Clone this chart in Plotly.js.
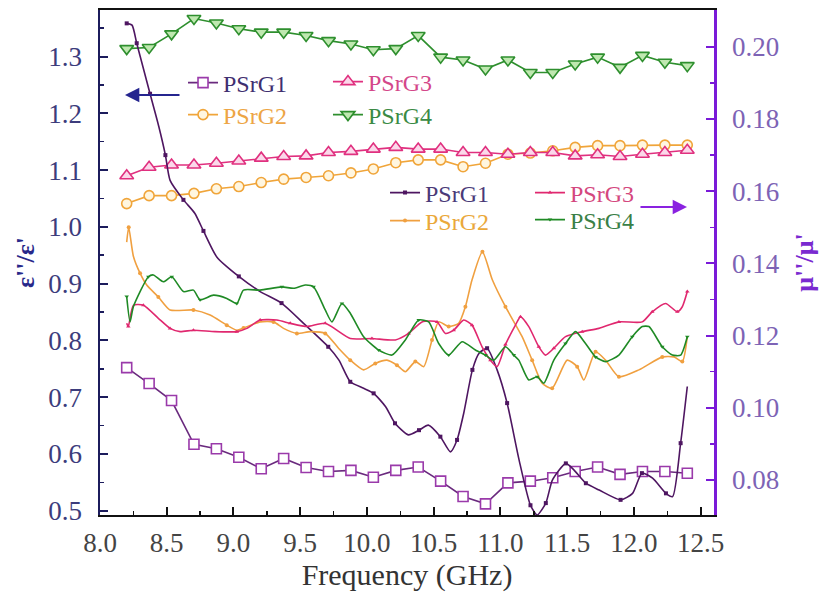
<!DOCTYPE html>
<html>
<head>
<meta charset="utf-8">
<script src="https://cdn.plot.ly/plotly-3.0.1.min.js"></script>
<style>
html,body{margin:0;padding:0;background:#fff;}
#chart{width:824px;height:599px;}
</style>
</head>
<body>
<div id="chart"></div>
<script>
// ---------- DATA ----------
// Permittivity ratio eps''/eps' (left axis), open markers
const freqEps = [8.2, 8.368, 8.536, 8.704, 8.872, 9.04, 9.208, 9.376, 9.544, 9.712, 9.88, 10.048, 10.216,
                 10.384, 10.552, 10.72, 10.888, 11.056, 11.224, 11.392, 11.56, 11.728, 11.896, 12.064, 12.232, 12.4];
const epsG1 = [0.752, 0.724, 0.694, 0.617, 0.609, 0.594, 0.574, 0.592, 0.576, 0.569, 0.571, 0.559, 0.571,
               0.577, 0.552, 0.525, 0.512, 0.549, 0.552, 0.558, 0.569, 0.577, 0.564, 0.569, 0.569, 0.566];
const epsG2 = [1.041, 1.055, 1.055, 1.059, 1.067, 1.071, 1.078, 1.084, 1.087, 1.090, 1.095, 1.102, 1.113,
               1.118, 1.118, 1.106, 1.112, 1.128, 1.130, 1.134, 1.140, 1.143, 1.143, 1.144, 1.144, 1.144];
const epsG3 = [1.090, 1.105, 1.109, 1.109, 1.112, 1.116, 1.121, 1.124, 1.125, 1.131, 1.133, 1.137, 1.140,
               1.137, 1.137, 1.131, 1.131, 1.128, 1.131, 1.131, 1.125, 1.127, 1.124, 1.128, 1.131, 1.135];
const epsG4 = [1.314, 1.316, 1.340, 1.367, 1.359, 1.349, 1.343, 1.343, 1.337, 1.328, 1.322, 1.312, 1.314,
               1.337, 1.299, 1.294, 1.278, 1.294, 1.272, 1.272, 1.287, 1.299, 1.281, 1.302, 1.290, 1.284];

// Permeability ratio mu''/mu' (right axis), lines with small dots
const freqMuG1 = [8.2, 8.24, 8.275, 8.325, 8.375, 8.44, 8.49, 8.525, 8.625, 8.71, 8.775, 8.875, 9.04, 9.2, 9.36,
                  9.525, 9.71, 9.79, 9.875, 9.975, 10.05, 10.14, 10.21, 10.31, 10.39, 10.46, 10.55, 10.625, 10.675,
                  10.725, 10.79, 10.84, 10.9, 10.975, 11.05, 11.14, 11.225, 11.275, 11.34, 11.39, 11.49, 11.55,
                  11.64, 11.74, 11.9, 11.99, 12.06, 12.14, 12.24, 12.29, 12.35, 12.4];
const muG1 = [0.2065, 0.206, 0.201, 0.194, 0.187, 0.178, 0.170, 0.163, 0.1576, 0.1539, 0.149, 0.1418, 0.1364,
              0.1322, 0.129, 0.1234, 0.1169, 0.1132, 0.1072, 0.1054, 0.104, 0.1003, 0.0957, 0.0925, 0.0938,
              0.0952, 0.092, 0.0878, 0.0911, 0.0985, 0.1105, 0.1151, 0.1165, 0.1105, 0.1013, 0.0855, 0.073,
              0.0703, 0.0736, 0.080, 0.0846, 0.0828, 0.0791, 0.0772, 0.0745, 0.0763, 0.0819, 0.0805, 0.0763,
              0.0754, 0.0902, 0.1059];
const freqMuG2 = [8.2, 8.215, 8.25, 8.3, 8.35, 8.437, 8.525, 8.7, 8.825, 8.95, 9.025, 9.075, 9.2, 9.3, 9.375,
                  9.475, 9.575, 9.6875, 9.787, 9.875, 9.975, 10.0625, 10.15, 10.225, 10.2875, 10.3625, 10.425,
                  10.4875, 10.537, 10.6125, 10.687, 10.7375, 10.787, 10.865, 10.94, 11.0375, 11.1625, 11.2375,
                  11.3125, 11.3875, 11.5, 11.575, 11.625, 11.7125, 11.7875, 11.8875, 12.0375, 12.2125, 12.3,
                  12.3625, 12.4];
const muG2 = [0.1459, 0.150, 0.142, 0.1373, 0.134, 0.1307, 0.1271, 0.1271, 0.1257, 0.1229, 0.1215, 0.1221,
              0.1238, 0.1238, 0.122, 0.1206, 0.1211, 0.1206, 0.1165, 0.1132, 0.1105, 0.1123, 0.1132, 0.1118,
              0.110, 0.1128, 0.1114, 0.1188, 0.1238, 0.1225, 0.1234, 0.128, 0.1354, 0.1432, 0.1354, 0.128,
              0.1197, 0.1132, 0.1068, 0.1054, 0.1132, 0.1114, 0.1077, 0.1155, 0.1132, 0.1086, 0.1105, 0.1141,
              0.1141, 0.1128, 0.1197];
const freqMuG3 = [8.2, 8.212, 8.25, 8.325, 8.437, 8.525, 8.6, 8.7, 8.8625, 9.025, 9.1, 9.2, 9.325, 9.425, 9.55,
                  9.6875, 9.875, 10.0375, 10.2125, 10.3125, 10.4125, 10.525, 10.5875, 10.65, 10.725, 10.7875,
                  10.8625, 10.925, 10.975, 11.0375, 11.1125, 11.15, 11.2125, 11.2875, 11.3375, 11.4, 11.4875,
                  11.6125, 11.7375, 11.8875, 12.0625, 12.1375, 12.2375, 12.325, 12.3625, 12.4];
const muG3 = [0.1234, 0.1225, 0.1284, 0.1284, 0.1248, 0.122, 0.1211, 0.1215, 0.1211, 0.1211, 0.122, 0.1243,
              0.1243, 0.1234, 0.1225, 0.1234, 0.1192, 0.1192, 0.1188, 0.1206, 0.1238, 0.1238, 0.1206, 0.1215,
              0.1243, 0.1229, 0.1169, 0.1132, 0.1114, 0.1175, 0.1229, 0.1252, 0.1225, 0.1169, 0.1146, 0.1165,
              0.1197, 0.1211, 0.122, 0.1238, 0.1238, 0.1266, 0.1289, 0.1266, 0.128, 0.1322];
const freqMuG4 = [8.2, 8.225, 8.25, 8.3625, 8.4, 8.475, 8.5375, 8.625, 8.7, 8.75, 8.85, 8.95, 9.025, 9.075, 9.2,
                  9.3625, 9.45, 9.5375, 9.6, 9.6875, 9.7375, 9.8125, 9.875, 9.975, 10.0875, 10.1875, 10.2875,
                  10.3875, 10.4625, 10.5375, 10.6125, 10.7125, 10.8125, 10.8875, 10.95, 11.0375, 11.1, 11.1375,
                  11.2125, 11.275, 11.325, 11.4, 11.4875, 11.5625, 11.6375, 11.7125, 11.7875, 11.8875, 11.9875,
                  12.0625, 12.1125, 12.2125, 12.2875, 12.35, 12.4];
const muG4 = [0.1308, 0.1238, 0.128, 0.1363, 0.1368, 0.1349, 0.1363, 0.1322, 0.1326, 0.1299, 0.1312, 0.1303,
              0.1289, 0.1326, 0.1326, 0.1335, 0.1331, 0.134, 0.1335, 0.1271, 0.1238, 0.1289, 0.1262, 0.1197,
              0.116, 0.1146, 0.1188, 0.1243, 0.1238, 0.1178, 0.1146, 0.1183, 0.116, 0.1146, 0.1132, 0.1169,
              0.1146, 0.1132, 0.1077, 0.1086, 0.1068, 0.1132, 0.1178, 0.1211, 0.1178, 0.1141, 0.1128, 0.1146,
              0.1197, 0.1225, 0.1225, 0.1169, 0.1146, 0.1146, 0.1197];

const seriesNames = ['PSrG1', 'PSrG2', 'PSrG3', 'PSrG4'];

// ---------- STYLES ----------
const FONT = 'Liberation Serif';
const epsStyle = [
  {line:'#6a2a7e', mk:'#9a3aaa', fill:'#ffffff', sym:'square', size:10, text:'#3f2f70'},
  {line:'#f0a53a', mk:'#f0a53a', fill:'#fff6e0', sym:'circle', size:10, text:'#eda545'},
  {line:'#e0307f', mk:'#e0307f', fill:'#fbd8ea', sym:'triangle-up', size:12, text:'#d4478a'},
  {line:'#2e8f2e', mk:'#2e8f2e', fill:'#bfe8b0', sym:'triangle-down', size:12, text:'#3a8a44'}
];
const muStyle = [
  {line:'#4e1661', text:'#4a3a78', sym:'square'},
  {line:'#f0a040', text:'#eaa83a', sym:'circle'},
  {line:'#e0286f', text:'#d4477e', sym:'triangle-up'},
  {line:'#1f8a25', text:'#3a8047', sym:'triangle-down'}
];

const epsData = [epsG1, epsG2, epsG3, epsG4];
const muFreq = [freqMuG1, freqMuG2, freqMuG3, freqMuG4];
const muData = [muG1, muG2, muG3, muG4];

const traces = [];
epsData.forEach((ys, i) => {
  const s = epsStyle[i];
  traces.push({
    x: freqEps, y: ys, name: seriesNames[i], type: 'scatter', mode: 'lines+markers',
    yaxis: 'y', legend: i === 0 ? 'legend' : 'legend' + (i + 1),
    line: {color: s.line, width: 1.6},
    marker: {symbol: s.sym, size: s.size, color: s.fill, line: {color: s.mk, width: 1.6}},
    hoverinfo: 'skip'
  });
});
muData.forEach((ys, i) => {
  const s = muStyle[i];
  traces.push({
    x: muFreq[i], y: ys, name: seriesNames[i], type: 'scatter', mode: 'lines+markers',
    yaxis: 'y2', legend: 'legend' + (i + 5),
    line: {color: s.line, width: 1.6, shape: 'spline', smoothing: 0.6},
    marker: {symbol: s.sym, size: 4, color: s.line, maxdisplayed: 26},
    hoverinfo: 'skip'
  });
});

// legend positions (paper coords)
const legPos = [
  [0.1352, 0.8554], [0.1352, 0.7921], [0.3713, 0.8574], [0.3713, 0.7921],
  [0.4642, 0.6376], [0.4642, 0.5822], [0.7003, 0.6376], [0.7003, 0.5842]
];
const legColors = epsStyle.map(s => s.text).concat(muStyle.map(s => s.text));

const layout = {
  width: 824, height: 599,
  margin: {l: 100, r: 110, t: 10, b: 84},
  paper_bgcolor: '#ffffff', plot_bgcolor: '#ffffff',
  font: {family: FONT, color: '#333'},
  showlegend: true,
  xaxis: {
    range: [8.0, 12.6], tick0: 8, dtick: 0.5, tickformat: '.1f',
    ticks: 'inside', ticklen: 8, tickwidth: 2, tickcolor: '#111',
    minor: {dtick: 0.25, ticks: 'inside', ticklen: 4, tickwidth: 1.5, tickcolor: '#111'},
    showline: true, linecolor: '#111', linewidth: 2, mirror: true,
    showgrid: false, zeroline: false,
    tickfont: {family: FONT, size: 27, color: '#444'},
    ticklabelstandoff: 3,
    title: {text: 'Frequency (GHz)', font: {family: FONT, size: 30, color: '#333'}, standoff: 4}
  },
  yaxis: {
    range: [0.4924, 1.382], tick0: 0.5, dtick: 0.1, tickformat: '.1f',
    ticks: 'inside', ticklen: 8, tickwidth: 2, tickcolor: '#1c1c5c',
    minor: {dtick: 0.05, ticks: 'inside', ticklen: 4, tickwidth: 1.5, tickcolor: '#1c1c5c'},
    showline: true, linecolor: '#1c1c5c', linewidth: 2.5,
    showgrid: false, zeroline: false,
    tickfont: {family: FONT, size: 27, color: '#3c3c7c'},
    ticklabelstandoff: 10,
    title: {text: "<b>\u03b5''/\u03b5'</b>", font: {family: FONT, size: 26, color: '#28288a'}, standoff: 6}
  },
  yaxis2: {
    overlaying: 'y', side: 'right',
    range: [0.0703, 0.2102], tick0: 0.08, dtick: 0.02, tickformat: '.2f',
    ticks: 'inside', ticklen: 8, tickwidth: 2, tickcolor: '#7a1ad8',
    minor: {dtick: 0.01, ticks: 'inside', ticklen: 4, tickwidth: 1.5, tickcolor: '#7a1ad8'},
    showline: true, linecolor: '#7a1ad8', linewidth: 2.5,
    showgrid: false, zeroline: false,
    tickfont: {family: FONT, size: 27, color: '#7d63b5'},
    ticklabelstandoff: 10,
    title: {text: "<b>\u03bc''/\u03bc'</b>", font: {family: FONT, size: 26, color: '#7a2ad0'}, standoff: 16}
  },
  annotations: [
    {xref: 'paper', yref: 'paper', x: 0.0407, y: 0.8317, ax: 56, ay: 0, text: '', showarrow: true,
     arrowhead: 2, arrowsize: 1.3, arrowwidth: 2.2, arrowcolor: '#25258f'},
    {xref: 'paper', yref: 'paper', x: 0.956, y: 0.6099, ax: -48, ay: 0, text: '', showarrow: true,
     arrowhead: 2, arrowsize: 1.3, arrowwidth: 2.2, arrowcolor: '#8a22e0'}
  ]
};
legPos.forEach((p, i) => {
  const key = i === 0 ? 'legend' : 'legend' + (i + 1);
  layout[key] = {
    x: p[0], y: p[1], xanchor: 'left', yanchor: 'middle',
    bgcolor: 'rgba(0,0,0,0)', borderwidth: 0, itemwidth: 30,
    font: {family: FONT, size: 24, color: legColors[i]}
  };
});

Plotly.newPlot('chart', traces, layout, {displayModeBar: false, staticPlot: true});
</script>
</body>
</html>
